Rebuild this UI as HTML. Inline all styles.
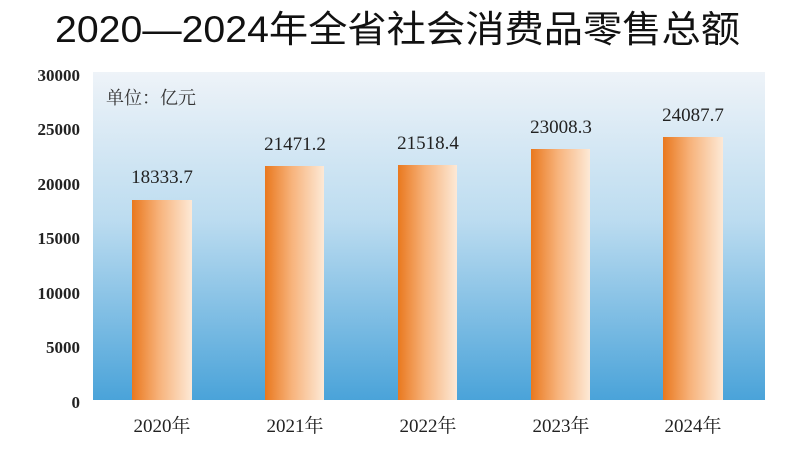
<!DOCTYPE html>
<html><head><meta charset="utf-8"><style>
body{margin:0;background:#fff;width:793px;height:461px;overflow:hidden;font-family:"Liberation Serif","Noto Serif CJK SC",serif}
</style></head><body>
<svg width="793" height="461" xmlns="http://www.w3.org/2000/svg">
<defs>
<linearGradient id="bg" x1="0" y1="0" x2="0" y2="1">
<stop offset="0" stop-color="#eef3f8"/><stop offset="0.45" stop-color="#bcdcf0"/><stop offset="1" stop-color="#4aa3d9"/>
</linearGradient>
<linearGradient id="bar" x1="0" y1="0" x2="1" y2="0">
<stop offset="0" stop-color="#e9781e"/><stop offset="0.45" stop-color="#f7b27a"/><stop offset="1" stop-color="#fde9d6"/>
</linearGradient>
</defs>
<text x="55" y="42" textLength="685" lengthAdjust="spacingAndGlyphs" font-family="'Liberation Sans','Noto Sans CJK SC',sans-serif" font-size="37" fill="#111">2020—2024年全省社会消费品零售总额</text>
<rect x="93" y="72" width="672" height="328" fill="url(#bg)"/>
<g font-size="17" fill="#222" text-anchor="end" font-weight="bold">
<text x="80" y="81">30000</text><text x="80" y="135">25000</text><text x="80" y="190">20000</text>
<text x="80" y="244">15000</text><text x="80" y="299">10000</text><text x="80" y="353">5000</text><text x="80" y="408">0</text>
</g>
<text x="106" y="104" font-size="18" fill="#333">单位：亿元</text>
<g fill="url(#bar)">
<rect x="132" y="200" width="60" height="200"/>
<rect x="265" y="166" width="59" height="234"/>
<rect x="398" y="165" width="59" height="235"/>
<rect x="531" y="149" width="59" height="251"/>
<rect x="663" y="137" width="60" height="263"/>
</g>
<g font-size="19" fill="#222" text-anchor="middle">
<text x="162" y="183">18333.7</text><text x="295" y="150">21471.2</text><text x="428" y="149">21518.4</text>
<text x="561" y="133">23008.3</text><text x="693" y="121">24087.7</text>
</g>
<g font-size="19" fill="#222" text-anchor="middle">
<text x="162" y="432">2020年</text><text x="295" y="432">2021年</text><text x="428" y="432">2022年</text>
<text x="561" y="432">2023年</text><text x="693" y="432">2024年</text>
</g>
</svg>
</body></html>
